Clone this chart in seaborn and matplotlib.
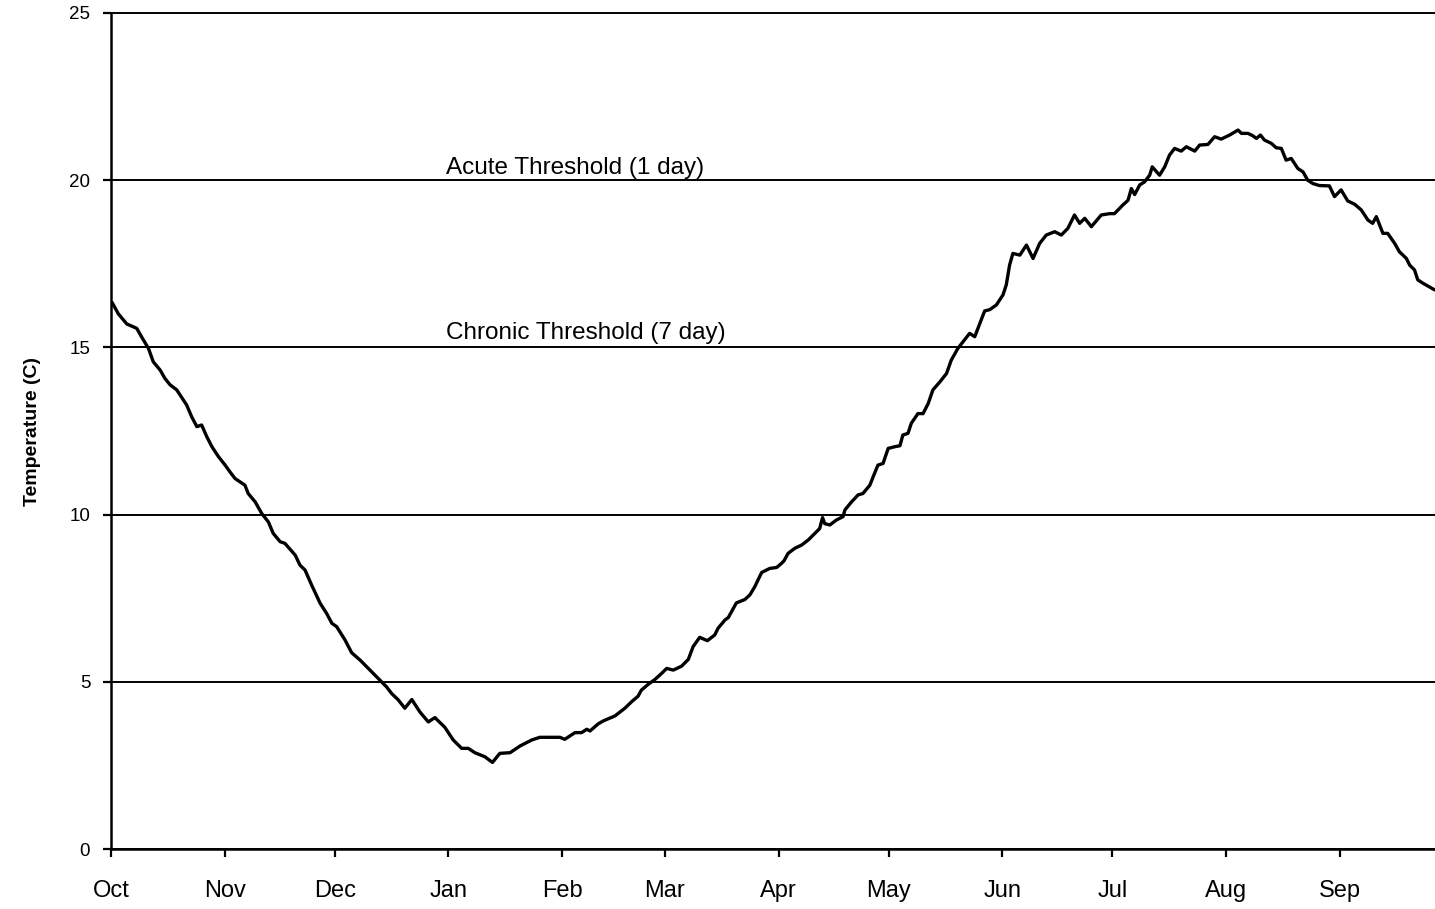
import matplotlib
matplotlib.use("Agg")
import matplotlib.pyplot as plt
import seaborn as sns
import pandas as pd

sns.set_style("ticks")
plt.rcParams['font.family'] = ['Liberation Sans', 'DejaVu Sans']
plt.rcParams['text.color'] = 'black'
plt.rcParams['axes.labelcolor'] = 'black'
plt.rcParams['xtick.color'] = 'black'
plt.rcParams['ytick.color'] = 'black'

# days since Oct 1 and daily mean temperature (C)
days = [0.3, 2.0, 4.3, 7.0, 8.4, 10.2, 11.5, 13.4, 14.7, 16.1, 17.9, 19.7, 20.6, 22.0, 23.4, 24.7,
        26.1, 27.5, 29.3, 31.1, 32.4, 33.8, 36.5, 37.4, 39.3, 41.1, 42.9, 44.2, 46.1, 47.4, 50.2,
        51.5, 52.9, 54.7, 57.0, 58.8, 60.2, 61.5,
        63.8, 65.6, 67.9, 70.6, 73.3, 75.1, 76.5, 78.3, 80.1, 82.0, 84.2, 86.5, 88.3, 91.0, 93.3,
        95.6, 97.4, 99.2, 101.9, 104.0, 106.0, 108.8, 111.5, 114.7, 116.9, 119.7, 122.4, 123.7,
        126.5, 128.3, 129.7, 130.6, 132.8, 134.2, 137.4, 140.1, 141.9, 143.7, 144.6, 146.4, 148.3,
        150.1, 151.5, 153.3, 155.6, 157.4, 158.7, 160.5, 162.6, 164.6, 165.5, 167.4, 168.3, 170.5,
        172.8, 174.2, 175.5, 177.4, 179.6, 181.5,
        182.8, 183.5, 184.6, 186.4, 188.3, 190.1, 191.9, 193.2, 194.0, 194.6, 196.0, 197.8, 199.6,
        200.1, 201.9, 203.7, 205.0, 206.9, 207.8, 209.1, 210.5, 211.9, 213.7, 215.1, 215.9, 217.3,
        218.2, 220.0, 221.4, 222.8, 224.1, 226.0, 227.8, 229.1, 230.9, 232.8, 234.1, 235.5, 236.9,
        238.2, 239.6, 241.4,
        243.2, 244.1, 245.0, 245.9, 247.8, 249.6, 251.4, 253.2, 255.0, 257.3, 259.1, 260.9, 262.7,
        264.1, 265.5, 267.3, 270.0, 272.3, 273.6, 275.9, 277.3, 278.2, 279.1, 280.5, 281.8, 283.2,
        283.9, 285.9, 287.3, 288.6, 290.0, 291.8, 293.2, 295.5, 296.8, 299.1, 300.9, 302.7, 305.0,
        307.3, 308.2, 310.0, 311.3, 312.3, 313.4, 314.5, 316.4, 317.7, 319.1, 320.4, 321.8, 323.6,
        325.0, 326.3, 327.7, 329.5, 332.2, 333.6, 335.4, 337.2, 339.1, 340.9, 342.7, 344.0, 345.0,
        346.8, 348.1, 350.0, 351.3, 353.2, 354.1, 355.4, 356.3, 357.7, 359.0, 360.9]
temps = [16.34, 16.0, 15.7, 15.57, 15.3, 14.97, 14.57, 14.32, 14.07, 13.88, 13.73, 13.43, 13.28, 12.92,
         12.63, 12.68, 12.33, 12.03, 11.73, 11.48, 11.28, 11.08, 10.88, 10.63, 10.38, 10.03, 9.78, 9.44,
         9.19, 9.14, 8.79, 8.49, 8.34, 7.89, 7.35, 7.04, 6.75, 6.65,
         6.25, 5.87, 5.65, 5.35, 5.05, 4.85, 4.65, 4.46, 4.21, 4.47, 4.10, 3.80, 3.93, 3.64, 3.26,
         3.01, 3.01, 2.88, 2.76, 2.59, 2.86, 2.88, 3.08, 3.26, 3.34, 3.34, 3.34, 3.28,
         3.48, 3.48, 3.58, 3.53, 3.74, 3.83, 3.98, 4.21, 4.40, 4.57, 4.75, 4.92, 5.07, 5.25, 5.40,
         5.35, 5.47, 5.67, 6.05, 6.33, 6.23, 6.40, 6.60, 6.85, 6.92, 7.36, 7.46, 7.60, 7.84, 8.27,
         8.39, 8.42,
         8.54, 8.62, 8.84, 8.99, 9.09, 9.24, 9.44, 9.58, 9.91, 9.73, 9.69, 9.84, 9.94, 10.14, 10.38,
         10.59, 10.63, 10.88, 11.13, 11.48, 11.53, 11.98, 12.03, 12.06, 12.38, 12.43, 12.73, 13.02,
         13.02, 13.32, 13.73, 13.97, 14.22, 14.62, 14.97, 15.24, 15.42, 15.32, 15.72, 16.09, 16.13,
         16.27,
         16.57, 16.87, 17.46, 17.81, 17.76, 18.06, 17.66, 18.11, 18.36, 18.46, 18.36, 18.56, 18.96,
         18.71, 18.86, 18.61, 18.96, 19.00, 19.00, 19.26, 19.40, 19.75, 19.57, 19.86, 19.95, 20.15,
         20.40, 20.15, 20.40, 20.75, 20.95, 20.87, 21.00, 20.87, 21.05, 21.07, 21.30, 21.23, 21.35,
         21.50, 21.40, 21.40, 21.33, 21.25, 21.35, 21.20, 21.10, 20.97, 20.95, 20.60, 20.65, 20.35,
         20.25, 20.00, 19.90, 19.84, 19.83, 19.51, 19.71, 19.38, 19.28, 19.11, 18.81, 18.71, 18.91,
         18.41, 18.41, 18.11, 17.86, 17.66, 17.46, 17.32, 17.02, 16.92, 16.84, 16.72]

month_starts = [0, 31, 61, 92, 123, 151, 182, 212, 243, 273, 304, 335]
month_labels = ['Oct', 'Nov', 'Dec', 'Jan', 'Feb', 'Mar', 'Apr', 'May', 'Jun', 'Jul', 'Aug', 'Sep']

df = pd.DataFrame({'day': days, 'temp': temps})

fig = plt.figure(figsize=(14.35, 9.09), dpi=100)
ax = fig.add_axes([0.0774, 0.066, 0.9226, 0.9197])

ax.yaxis.grid(True, color='black', lw=1.4)
ax.set_axisbelow(True)
sns.lineplot(x='day', y='temp', data=df, color='black', lw=2.4, ax=ax)

# threshold labels
ax.text(91.3, 20.2, 'Acute Threshold (1 day)', fontsize=17.5)
ax.text(91.3, 15.25, 'Chronic Threshold (7 day)', fontsize=17.5)

ax.set_xlim(0, 361)
ax.set_ylim(0, 25)
ax.set_yticks([0, 5, 10, 15, 20, 25])
ax.set_xticks(month_starts)
ax.set_xticklabels(month_labels)
ax.tick_params(axis='x', labelsize=17, length=6, width=1.6, pad=16)
ax.tick_params(axis='y', labelsize=13.5, length=6, width=1.6, pad=9)
ax.set_xlabel('')
ax.set_ylabel('Temperature (C)', fontsize=14, fontweight='bold', labelpad=20)

# top gridline (25) sits on the axes edge, keep it full width
for gl in ax.get_ygridlines():
    gl.set_clip_on(False)

sns.despine(ax=ax, top=True, right=True)
for s in ['left', 'bottom']:
    ax.spines[s].set_color('black')
    ax.spines[s].set_linewidth(1.8)

fig.savefig('out.png', dpi=100)
